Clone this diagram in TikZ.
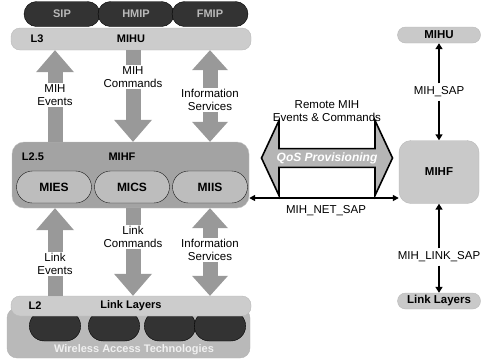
\documentclass[tikz,border=0pt]{standalone}
\usepackage{fontspec}
\setmainfont{Liberation Sans}
\usetikzlibrary{arrows.meta, shapes.misc, shapes.arrows}
\definecolor{protogray}{gray}{0.20}
\definecolor{bargray}{gray}{0.80}
\definecolor{mihfgray}{gray}{0.64}
\definecolor{arrgray}{gray}{0.60}

\begin{document}
\begin{tikzpicture}[x=1pt, y=-1pt, every node/.style={font=\fontsize{11.5}{13}\selectfont},
  protobox/.style={rounded rectangle, draw=black, fill=protogray, minimum width=76pt,
                   minimum height=25pt, inner sep=0pt, text=gray!55, font=\bfseries\fontsize{11}{12}\selectfont},
  barbox/.style={rounded corners=9pt, draw=gray!55, fill=bargray, minimum width=240pt,
                 minimum height=22pt, inner sep=0pt, font=\bfseries\fontsize{11}{12}\selectfont},
  funcbox/.style={rounded rectangle, draw=gray!20!black, fill=gray!52, minimum width=75pt,
                  minimum height=32pt, inner sep=0pt, font=\bfseries\fontsize{12}{13}\selectfont},
  rbox/.style={rounded rectangle, draw=gray!55, fill=gray!42, minimum width=83pt,
               minimum height=16pt, inner sep=0pt, font=\bfseries\fontsize{11.5}{12}\selectfont},
  tag/.style={font=\bfseries\fontsize{11}{12}\selectfont},
  lbl/.style={fill=white, align=center, inner sep=1.5pt},
  blkarrow/.style={line width=15pt, draw=arrgray},
  uparr/.style={blkarrow, {Triangle[length=22pt, width=38pt, line width=0pt 0 0]}-},
  downarr/.style={blkarrow, -{Triangle[length=22pt, width=38pt, line width=0pt 0 0]}},
  bothaarr/.style={blkarrow, {Triangle[length=20pt, width=36pt, line width=0pt 0 0]}-{Triangle[length=20pt, width=36pt, line width=0pt 0 0]}},
  sap/.style={line width=2pt, -{Triangle[length=6pt, width=7pt]}}]
  \useasboundingbox (0,0) rectangle (489,360);

  % upper layer: L3 with mobility protocols
  \node[barbox] (l3) at (131,39) {MIHU};
  \node[tag] (l3tag) at (37,39) {L3};
  \node[protobox] (sip) at (62,14) {SIP};
  \node[protobox] (hmip) at (136,14) {HMIP};
  \node[protobox] (fmip) at (210,14) {FMIP};

  % MIHF with its three services
  \node[draw=gray!50, fill=mihfgray, rounded corners=12pt, minimum width=237pt,
        minimum height=66pt] (mihf) at (130.5,175) {};
  \node[tag] (l25tag) at (33,157) {L2.5};
  \node[tag] (mihftag) at (122,157) {MIHF};
  \node[funcbox] (mies) at (54,187) {MIES};
  \node[funcbox] (mics) at (132,187) {MICS};
  \node[funcbox] (miis) at (210,187) {MIIS};

  % lower layer: link layers over the access technologies
  \node[draw=gray!60, fill=gray!55, rounded corners=10pt, minimum width=243pt,
        minimum height=50pt] (wat) at (128.5,333) {};
  \foreach \i/\x in {1/55,2/114,3/170,4/220}
    \node[rounded rectangle, draw=black, fill=protogray, minimum width=58pt,
          minimum height=30pt] (wat\i) at (\x,326) {};
  \node[barbox, minimum height=20pt] (l2) at (131,306) {Link Layers};
  \node[tag] (l2tag) at (35,306) {L2};
  \node[tag, text=gray!12] (wattag) at (134,350) {Wireless Access Technologies};

  % block arrows between the layers
  \coordinate (ca) at (55,0);
  \coordinate (cb) at (133,0);
  \coordinate (cc) at (210,0);
  \draw[uparr] (l3.south -| ca) -- (mihf.north -| ca);
  \draw[downarr] (l3.south -| cb) -- (mihf.north -| cb);
  \draw[bothaarr] (l3.south -| cc) -- (mihf.north -| cc);
  \draw[uparr] (mihf.south -| ca) -- (l2.north -| ca);
  \draw[downarr] (mihf.south -| cb) -- (l2.north -| cb);
  \draw[bothaarr] (mihf.south -| cc) -- (l2.north -| cc);

  \node[lbl] (evtxt) at (55,95) {MIH\\Events};
  \node[lbl] (cmdtxt) at (133,77) {MIH\\Commands};
  \node[lbl] (istxt) at (210,100) {Information\\Services};
  \node[lbl] (levtxt) at (55,264) {Link\\Events};
  \node[lbl] (lcmdtxt) at (133,237) {Link\\Commands};
  \node[lbl] (listxt) at (210,250) {Information\\Services};

  % remote side
  \node[rbox] (mihuR) at (439,35) {MIHU};
  \node (sapA) at (439,92) {MIH\_SAP};
  \node[rbox, rectangle, rounded corners=12pt, minimum width=80pt, minimum height=63pt] (mihfR) at (439,172) {MIHF};
  \node (sapB) at (439,257) {MIH\_LINK\_SAP};
  \node[rbox] (llR) at (439,301) {Link Layers};
  \draw[sap] (sapA) -- (mihuR);
  \draw[sap] (sapA) -- (mihfR);
  \draw[sap] (sapB) -- (mihfR);
  \draw[sap] (sapB) -- (llR);

  % QoS provisioning between the two MIHFs
  \node[double arrow, draw=black, line width=1.6pt, fill=gray!58, minimum height=131pt,
        minimum width=75pt, double arrow head extend=19pt, double arrow tip angle=130,
        inner sep=0pt, text=white, font=\bfseries\itshape\fontsize{12}{14}\selectfont] (qos) at (327,158) {QoS Provisioning};
  \node[align=center] (remote) at (327,111) {Remote MIH\\Events \& Commands};
  \coordinate (nety) at (0,198);
  \draw[line width=1.6pt, {Triangle[length=6pt, width=6pt]}-{Triangle[length=6pt, width=6pt]}]
    (mihf.east |- nety) -- (mihfR.west |- nety);
  \node (nettag) at (326,211) {MIH\_NET\_SAP};
\end{tikzpicture}
\end{document}
